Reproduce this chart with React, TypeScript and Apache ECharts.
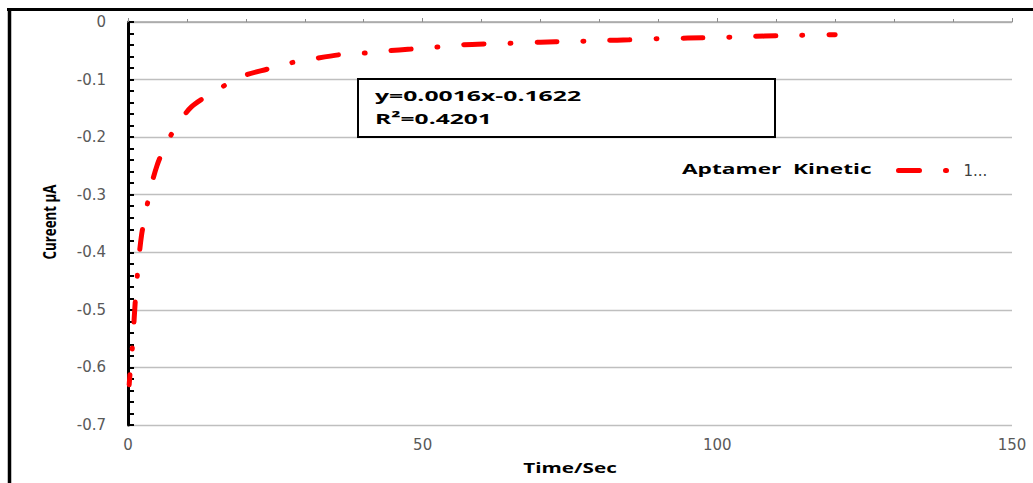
import React, { useEffect, useRef } from "react";
import * as echarts from "echarts";

// Data
const timeSec = [0.2, 0.5, 0.7, 0.9, 1.2, 1.5, 1.8, 2.3, 3.0, 3.8, 4.9, 6.0, 7.2, 8.8, 10.8, 13.5, 16.8, 20, 23.6, 27.6, 31.4, 35.8, 40, 44, 48, 52, 56, 60.5, 65, 70, 75, 81, 85, 90, 95, 100, 106, 110, 114, 120];
const currentUA = [-0.630, -0.59, -0.57, -0.54, -0.49, -0.45, -0.415, -0.37, -0.332, -0.29, -0.25, -0.222, -0.198, -0.172, -0.147, -0.128, -0.108, -0.092, -0.082, -0.071, -0.064, -0.057, -0.054, -0.050, -0.047, -0.044, -0.040, -0.038, -0.037, -0.035, -0.034, -0.032, -0.031, -0.029, -0.028, -0.027, -0.025, -0.024, -0.023, -0.022];
const seriesName = "1...";
const legendTitle = "Aptamer  Kinetic";
const equationLines = ["y=0.0016x-0.1622", "R²=0.4201"];
const xTitle = "Time/Sec";
const yTitle = "Cureent µA";
const xRange = [0, 150];
const yRange = [-0.7, 0];

const tickFont = "DejaVu Sans";
const boldFont = "Open Sans";

export default function App() {
  const ref = useRef<HTMLDivElement>(null);
  useEffect(() => {
    if (!ref.current) return;
    const chart = echarts.init(ref.current, null, { renderer: "svg" });
    const data = timeSec.map((t, i) => [t, currentUA[i]]);
    const boldText = (text: string, x: number, y: number, size: number, scaleX: number, align: string, extra: any = {}) => ({
      type: "text",
      x,
      y,
      scaleX,
      z: 20,
      ...extra,
      style: {
        text,
        fontFamily: boldFont,
        fontWeight: "bold",
        fontSize: size,
        fill: "#000",
        align,
        textAlign: align,
        verticalAlign: "middle",
        textVerticalAlign: "middle",
      },
    });
    chart.setOption({
      animation: false,
      backgroundColor: "#fff",
      grid: { left: 128, right: 21, top: 22, bottom: 58, containLabel: false, outerBoundsMode: "none" },
      xAxis: [
        {
          type: "value",
          position: "top",
          min: xRange[0],
          max: xRange[1],
          interval: 50,
          axisLine: { show: true, onZero: false, lineStyle: { color: "#A6A6A6", width: 1.5 } },
          axisTick: { show: true, inside: false, length: 4, lineStyle: { color: "#8C8C8C" } },
          minorTick: { show: true, splitNumber: 5, length: 3, lineStyle: { color: "#8C8C8C" } },
          axisLabel: { show: false },
          splitLine: { show: false },
        },
        {
          type: "value",
          position: "bottom",
          min: xRange[0],
          max: xRange[1],
          interval: 50,
          axisLine: { show: false, onZero: false },
          axisTick: { show: false },
          axisLabel: { show: true, margin: 12, fontSize: 15, color: "#595959", fontFamily: tickFont },
          splitLine: { show: false },
        },
      ],
      yAxis: {
        type: "value",
        min: yRange[0],
        max: yRange[1],
        interval: 0.1,
        axisLine: { show: true, onZero: false, lineStyle: { color: "#000", width: 3 } },
        axisTick: { show: true, inside: true, length: 6, lineStyle: { color: "#000", width: 2 } },
        minorTick: { show: true, splitNumber: 5, length: 6, lineStyle: { color: "#000", width: 2 } },
        axisLabel: { margin: 22, fontSize: 15, color: "#595959", fontFamily: tickFont },
        splitLine: { show: true, lineStyle: { color: "#BFBFBF", width: 1.3 } },
      },
      legend: {
        show: true,
        data: [seriesName],
        left: 891,
        top: 158,
        itemWidth: 60,
        itemHeight: 14,
        selectedMode: false,
        itemStyle: { color: "transparent", borderColor: "transparent", borderWidth: 0, opacity: 0 },
        lineStyle: { type: [21, 26, 1, 26], dashOffset: 0, width: 5, color: "#FF0000", cap: "round" },
        textStyle: { fontSize: 15, color: "#404040", fontFamily: tickFont },
      },
      series: [
        {
          name: seriesName,
          type: "line",
          xAxisIndex: 1,
          data,
          symbol: "none",
          smooth: 0.3,
          lineStyle: { color: "#FF0000", width: 5, type: [20, 26, 1, 26], dashOffset: 10, cap: "round" },
          itemStyle: { color: "#FF0000" },
        },
      ],
      graphic: [
        { type: "line", shape: { x1: 7, y1: 9.5, x2: 1040, y2: 9.5 }, style: { stroke: "#000", lineWidth: 3 } },
        { type: "line", shape: { x1: 9.5, y1: 8, x2: 9.5, y2: 490 }, style: { stroke: "#000", lineWidth: 3.5 } },
        { type: "rect", z: 10, shape: { x: 358, y: 79, width: 417, height: 58 }, style: { fill: "#fff", stroke: "#000", lineWidth: 2 } },
        boldText(equationLines[0], 375, 95, 15, 1.65, "left"),
        boldText(equationLines[1], 375, 118, 15, 1.64, "left"),
        boldText(legendTitle, 682, 168, 15, 1.51, "left"),
        boldText(xTitle, 570, 467, 15, 1.38, "center"),
        boldText(yTitle, 49, 222, 18, 0.74, "center", { rotation: Math.PI / 2 }),
      ],
    });
    return () => chart.dispose();
  }, []);
  return <div ref={ref} style={{ position: "fixed", left: 0, top: 0, width: 1033, height: 483 }} />;
}
